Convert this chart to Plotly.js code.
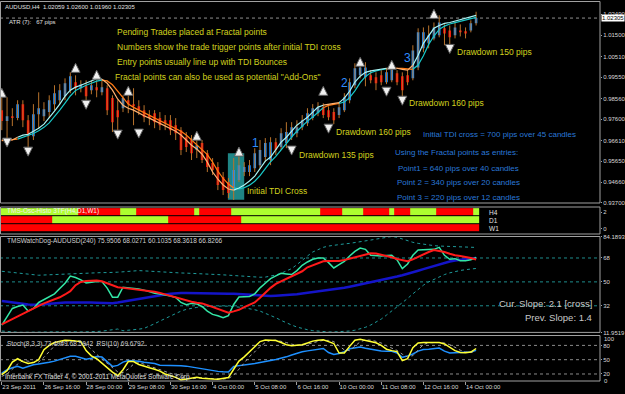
<!DOCTYPE html>
<html><head><meta charset="utf-8">
<script src="https://cdn.plot.ly/plotly-3.0.1.min.js"></script>
<style>html,body{margin:0;padding:0;background:#000;}#chart{width:625px;height:394px;}</style>
</head><body><div id="chart"></div>
<script>
// ---------- DATA (AUDUSD H4) ----------
const dateTickBars = [0, 8, 16, 24, 32, 40, 48, 56, 64, 72, 80, 88];
const dateTickLabels = ['23 Sep 2011','26 Sep 16:00','28 Sep 00:00','29 Sep 08:00','30 Sep 16:00','4 Oct 00:00','5 Oct 08:00','6 Oct 16:00','10 Oct 00:00','11 Oct 08:00','12 Oct 16:00','14 Oct 00:00'];

const opens = [
0.9802,0.9751,0.9774,0.9765,0.9830,0.9755,0.9681,0.9783,0.9774,0.9793,
0.9830,0.9848,0.9867,0.9895,0.9932,0.9904,0.9913,0.9895,0.9909,0.9885,
0.9904,0.9858,0.9802,0.9811,0.9848,0.9830,0.9820,0.9802,0.9779,0.9788,
0.9765,0.9755,0.9755,0.9732,0.9709,0.9676,0.9663,0.9616,0.9649,0.9602,
0.9556,0.9537,0.9491,0.9468,0.9430,0.9477,0.9514,0.9514,0.9532,0.9546,
0.9584,0.9570,0.9653,0.9630,0.9649,0.9676,0.9695,0.9723,0.9741,0.9765,
0.9788,0.9816,0.9802,0.9793,0.9779,0.9802,0.9848,0.9918,0.9964,0.9955,
0.9964,0.9955,0.9964,0.9932,0.9941,0.9974,0.9960,0.9964,0.9950,1.0001,
1.0090,1.0113,1.0136,1.0150,1.0183,1.0173,1.0150,1.0173,1.0169,1.0173,
1.02059];
const highs = [
0.9885,0.9862,0.9811,0.9848,0.9848,0.9779,0.9830,0.9885,0.9839,0.9871,
0.9918,0.9923,0.9950,0.9978,0.9964,0.9941,0.9941,0.9941,0.9941,0.9941,
0.9918,0.9871,0.9848,0.9871,0.9881,0.9904,0.9848,0.9825,0.9802,0.9802,
0.9793,0.9779,0.9779,0.9765,0.9723,0.9700,0.9686,0.9686,0.9663,0.9616,
0.9579,0.9560,0.9514,0.9486,0.9579,0.9593,0.9560,0.9570,0.9625,0.9663,
0.9672,0.9676,0.9672,0.9718,0.9746,0.9746,0.9755,0.9779,0.9811,0.9830,
0.9839,0.9834,0.9820,0.9811,0.9834,0.9881,0.9950,1.0020,1.0020,1.0025,
0.9988,0.9978,0.9988,0.9997,1.0025,0.9988,0.9978,0.9988,1.0104,1.0183,
1.0187,1.0196,1.0210,1.0243,1.0201,1.0196,1.0210,1.0201,1.0187,1.0220,
1.02600];
const lows = [
0.9709,0.9653,0.9728,0.9755,0.9723,0.9616,0.9663,0.9718,0.9751,0.9765,
0.9802,0.9830,0.9848,0.9881,0.9871,0.9885,0.9839,0.9876,0.9862,0.9871,
0.9779,0.9700,0.9709,0.9793,0.9788,0.9732,0.9779,0.9746,0.9732,0.9718,
0.9709,0.9709,0.9686,0.9663,0.9593,0.9607,0.9570,0.9579,0.9556,0.9514,
0.9500,0.9430,0.9407,0.9393,0.9384,0.9468,0.9495,0.9495,0.9514,0.9532,
0.9560,0.9546,0.9593,0.9616,0.9625,0.9663,0.9676,0.9709,0.9728,0.9755,
0.9774,0.9765,0.9755,0.9737,0.9765,0.9793,0.9834,0.9904,0.9950,0.9913,
0.9927,0.9895,0.9918,0.9923,0.9932,0.9918,0.9862,0.9918,0.9941,0.9988,
1.0071,1.0090,1.0127,1.0141,1.0104,1.0104,1.0136,1.0145,1.0136,1.0164,
1.01960];
const closes = [
0.9751,0.9774,0.9765,0.9830,0.9755,0.9681,0.9783,0.9811,0.9806,0.9848,
0.9881,0.9895,0.9927,0.9960,0.9904,0.9923,0.9867,0.9918,0.9895,0.9909,
0.9802,0.9746,0.9769,0.9858,0.9830,0.9820,0.9802,0.9769,0.9765,0.9746,
0.9732,0.9741,0.9709,0.9695,0.9616,0.9630,0.9602,0.9639,0.9570,0.9537,
0.9523,0.9454,0.9430,0.9416,0.9523,0.9546,0.9537,0.9546,0.9602,0.9616,
0.9649,0.9653,0.9616,0.9695,0.9700,0.9723,0.9723,0.9755,0.9788,0.9811,
0.9816,0.9779,0.9769,0.9755,0.9816,0.9862,0.9932,0.9997,1.0001,1.0001,
0.9941,0.9927,0.9932,0.9978,1.0001,0.9932,0.9895,0.9932,1.0080,1.0164,
1.0164,1.0150,1.0187,1.0210,1.0159,1.0141,1.0187,1.0164,1.0159,1.0206,
1.02305];

// fast and slow slope-coloured averages on the price chart
const maFast = [
0.9663,0.9663,0.9663,0.9676,0.9686,0.9690,0.9704,0.9718,0.9737,0.9765,
0.9797,0.9830,0.9867,0.9895,0.9909,0.9918,0.9927,0.9936,0.9948,0.9946,
0.9927,0.9895,0.9853,0.9825,0.9811,0.9802,0.9788,0.9776,0.9765,0.9753,
0.9741,0.9730,0.9718,0.9704,0.9686,0.9663,0.9639,0.9621,0.9597,0.9560,
0.9514,0.9481,0.9454,0.9435,0.9430,0.9440,0.9454,0.9472,0.9495,0.9532,
0.9565,0.9584,0.9616,0.9653,0.9676,0.9704,0.9732,0.9751,0.9769,0.9793,
0.9816,0.9825,0.9830,0.9832,0.9837,0.9858,0.9890,0.9932,0.9960,0.9978,
0.9985,0.9990,0.9995,0.9997,0.9997,0.9997,0.9992,0.9988,1.0011,1.0057,
1.0113,1.0150,1.0183,1.0196,1.0206,1.0210,1.0217,1.0222,1.0229,1.0236,
1.0243];
const maSlow = [
0.9660,0.9662,0.9663,0.9667,0.9676,0.9684,0.9693,0.9706,0.9722,0.9743,
0.9770,0.9802,0.9835,0.9868,0.9894,0.9908,0.9918,0.9927,0.9937,0.9942,
0.9938,0.9920,0.9890,0.9858,0.9830,0.9815,0.9803,0.9790,0.9778,0.9766,
0.9754,0.9742,0.9731,0.9719,0.9704,0.9686,0.9664,0.9642,0.9621,0.9595,
0.9560,0.9518,0.9484,0.9458,0.9440,0.9436,0.9441,0.9453,0.9471,0.9497,
0.9530,0.9562,0.9587,0.9617,0.9651,0.9677,0.9704,0.9730,0.9751,0.9770,
0.9792,0.9813,0.9824,0.9829,0.9833,0.9840,0.9860,0.9892,0.9930,0.9958,
0.9976,0.9985,0.9990,0.9994,0.9996,0.9997,0.9996,0.9993,0.9992,1.0012,
1.0055,1.0108,1.0147,1.0178,1.0193,1.0203,1.0209,1.0215,1.0221,1.0227,
1.0234];
const maTrend = [
-1,-1,-1,1,1,1,1,1,1,1,
1,1,1,1,1,1,1,1,1,-1,
-1,-1,-1,-1,-1,-1,-1,-1,-1,-1,
-1,-1,-1,-1,-1,-1,-1,-1,-1,-1,
-1,-1,-1,-1,1,1,1,1,1,1,
1,1,1,1,1,1,1,1,1,1,
1,-1,-1,-1,1,1,1,1,1,1,
1,1,1,-1,-1,-1,-1,-1,1,1,
1,1,1,1,1,1,1,1,1,1,
1];

const fracUpBar = [0, 14, 18, 24, 37, 45, 61, 68, 74, 82];
const fracUpPrice = [0.9904, 1.0020, 0.9988, 0.9913, 0.9704, 0.9630, 0.9913, 1.0048, 1.0034, 1.0271];
const fracDnBar = [1, 5, 16, 22, 26, 55, 62, 73, 76, 85];
const fracDnPrice = [0.9630, 0.9588, 0.9806, 0.9667, 0.9672, 0.9593, 0.9695, 0.9867, 0.9825, 1.0066];

// TMS-Osc-Histo 3TF  (1 = green, 0 = red)
const histoH4 = [
1,1,1,1,1,1,1,1,1,1,
1,1,1,1,1,0,0,0,0,0,
0,0,0,1,1,1,0,0,0,0,
0,0,0,0,0,0,0,1,0,0,
0,0,0,0,1,1,1,1,1,1,
1,1,1,1,1,1,1,1,1,1,
1,0,0,0,0,1,1,1,1,0,
0,0,0,0,1,0,0,0,1,1,
1,1,1,0,0,0,0,0,0,0,
1];
const histoD1 = [
0,0,0,0,0,0,0,0,0,0,
1,1,1,1,1,1,1,1,1,1,
1,1,1,1,1,1,1,1,1,1,
1,1,0,0,0,0,0,0,0,0,
0,0,0,0,0,0,1,1,1,1,
1,1,1,1,1,1,1,1,1,1,
1,1,1,1,1,1,1,1,1,1,
1,1,1,1,1,1,1,1,1,1,
1,1,1,1,1,1,1,1,1,1,
1];
const histoW1 = [
0,0,0,0,0,0,0,0,0,0,
0,0,0,0,0,0,0,0,0,0,
0,0,0,0,0,0,0,0,0,0,
0,0,0,0,0,0,0,0,0,0,
0,0,0,0,0,0,0,0,0,0,
0,0,0,0,0,0,0,0,0,0,
0,0,0,0,0,0,0,0,0,0,
0,0,0,0,0,0,0,0,0,0,
0,0,0,0,0,0,0,0,0,0,
0];

// TMSWatchDog (TDI)
const tdiUpper = [
58,57.5,57,56.5,56,55.5,55,55,55.2,55.4,
55.6,55.8,56,56.2,56.4,56.6,56.8,57,57,57,
57,57,57.3,57.6,58,58.3,58.5,58.3,58,57.7,
57.4,57.2,57,56.8,56.7,56.6,56.5,56.4,56.2,56,
55.8,55.5,55.3,55,54.7,54.4,54.1,53.8,53.6,53.5,
53.6,54.2,55.2,56.5,58,60,63,66.5,69.5,72.5,
74.5,76,77,77.7,78.2,78.6,79,79.5,80,80.8,
81.5,82.2,82.8,83.8,84.19,83.6,82.3,80.8,79.8,79,
78.3,77.8,77.3,77,76.8,76.6,76.4,76.2,76.1,76,
75.95];
const tdiLower = [
13,12.6,12.3,12.1,12,11.95,12,12.1,12.2,12.3,
12.4,12.5,12.5,12.5,12.4,12.3,12.3,12.4,12.6,12.9,
13.3,13.8,14.5,13.2,13.5,13.9,14.4,15,16.5,18.5,
20.5,22.5,24.5,26.5,28,29.3,30.2,30.8,31.3,31.5,
31.7,31.8,31.8,31.7,31.5,31,30.5,30,29,28,
26.5,25,23,21,19,17.5,16,14.8,14,13.3,
12.8,12.5,12.3,12.3,12.4,12.6,13,13.6,14.5,15.8,
17.5,19.5,22,25,28,31,34,37.5,41,44.5,
47.5,50,52,54,55.5,56.8,57.8,58.6,59.2,59.7,
60.1];
const tdiBase = [
35.6,35.2,34.8,34,33.5,33,32.7,32.8,33.2,33.6,
34,34.2,34.4,34.5,34.6,34.6,34.5,34.4,34.3,34.1,
34,34,34.5,35.2,35.8,36.4,37.2,38,38.8,39.5,
40,40.5,41,41.4,41.6,41.6,41.6,41.6,41.6,41.5,
41.4,41.3,41.2,41.1,41,40.8,40.5,40.2,39.9,39.6,
39.4,39.4,39.6,39.8,40,40.2,40.7,41.2,41.7,42.2,
42.7,43.3,43.8,44.3,44.9,45.6,46.4,47.2,48,48.8,
49.6,50.4,51.2,52.1,53,54,55,56,57.2,58.4,
59.6,60.8,62,63.2,64.3,65.3,66.1,66.8,67.3,67.7,
68.03];
const tdiPrice = [
17.5,24,30,31.5,32.6,28,30,34.5,36.5,39,
41,45,49,54.4,53.3,51.5,49.2,49.8,50.3,50.2,
45.3,38.5,38.5,46,45.7,45.3,44.6,43.8,42.5,41.4,
40.8,40.2,39.3,38.3,34.5,32.8,33.8,33.4,31.5,28,
25.5,24.5,23,24.6,33,38.6,38.6,39,41,45.5,
49,52.5,54.5,56.5,56,55.5,58.5,62.5,65,67,
68,68,64.5,60.5,63,65.5,69.5,73,75.5,74.5,
70,69.7,69.5,69.8,70,66.5,60,63.5,70,74,
74,74.1,74.5,76,70,67,67.5,66,66,66.6,
68.36];
const tdiSignal = [
18,20,22,24.5,26,28,30,32,33.8,35.3,
37,38.4,40.5,43,47.5,50,50.6,50.8,51,50.5,
49,47,46,45.5,45,44.5,44.1,43.7,43.3,42.6,
41.7,40.6,39.4,38.3,37,35.8,35,34.3,33.8,32.5,
31.2,29.8,28.3,26.8,27.8,29,31,32.8,34.5,38,
42,45.5,48.5,50.5,52.5,54.5,56,58,61,62.5,
64,65.5,65.7,65.7,65.7,66.5,67.5,68.5,69.5,70.5,
71.5,71.3,70.5,69.5,68.5,67.2,66.3,65.6,67,69,
71,72.5,74,73.5,72.5,71.2,70,69.5,69,68,
66.83];

// Stoch(8,3,3) and RSI(10)
const stochMain = [
18.5,27,45,52,46,42,44,50,71,80,
86,89,91,90.5,90,88,69,58,52,42,
33,24,16.4,29,46,46,40,36,33,30,
26,20,17,13,7.5,9.5,12.5,13,11,9.5,
9.3,9,10,12.5,30,47,56,66,78,88,
91.5,91.5,90.2,86,81.5,79.5,80,81.5,85,89,
91,92,88,84,64,64,78,91,93,91,
88.5,85.5,80,72,69,67,48,52,75,85,
86,86,86,86,83,76,69,65,64.5,66,
73.49];
const stochSignal = [
15,20,30,41,48,47,44,45,55,67,
79,85,88.5,90,90.5,89.5,82,72,60,51,
42.5,33,24.5,23,30.5,40.5,44,40.5,36.5,33,
29.5,25,21,16.5,12.5,10,10,11.5,12,11,
10,9.3,9.4,10.5,17.5,30,44.5,56.5,66.5,77.5,
86,90.5,91,89,86,82.5,80.5,80.5,82,85,
88.5,90.5,90.5,88,79,70.5,69,78,87.5,91.5,
91,88.5,85,79,74,69.5,61.5,55.5,58.5,70.5,
82,85.5,86,86,85,81.5,76,70,66,65,
68.59];
const rsi = [
22,29,33,36,32,36,39.5,41,42,44.5,
47,50,53,57,57,54,51,53,56.5,55.5,
45,36,38,45,48.5,48,46.5,44.5,43.5,42,
38.5,38.5,39,38.5,37.5,36.5,34.5,32,30,28.5,
26,25.5,24.5,24,36,38,39,40.5,42,44.5,
47.5,48.5,50.5,53,56,60,63.5,66.5,68.5,70.5,
72,73.5,65,61,63,67,73,75,76.5,74,
71.5,69.5,68,67.5,67.5,64,55,58,62,68,
71.5,72,73,74.5,68,64,64.5,64.5,64.5,66,
69.68];

const priceTicks = [0.937, 0.9466, 0.9565, 0.9661, 0.976, 0.9856, 0.9955, 1.0051, 1.015, 1.0249];
const priceTickText = ['0.93700','0.94660','0.95650','0.96610','0.97600','0.98560','0.99550','1.00510','1.01500','1.02490'];
const lastPrice = 1.02305;

// ---------- BUILD ----------
const bars = opens.map((_, i) => i);
const FONT = 'Liberation Sans, Arial, sans-serif';
const PX = x => x / 600;
const PY = y => (381 - y) / 379;

function trendSeg(vals, sign) {
  return vals.map((v, i) => (maTrend[i] === sign || (i > 0 && maTrend[i - 1] === sign)) ? v : null);
}
const wx = [], wy = [];
bars.forEach(i => { wx.push(i, i, null); wy.push(lows[i], highs[i], null); });

const traces = [
  {type:'scatter', mode:'lines', x:wx, y:wy, xaxis:'x', yaxis:'y', line:{color:'#b8732c', width:1}, hoverinfo:'skip'},
  {type:'candlestick', x:bars, open:opens, high:highs, low:lows, close:closes, xaxis:'x', yaxis:'y',
   increasing:{fillcolor:'#1e90ff', line:{color:'#1e90ff', width:0}},
   decreasing:{fillcolor:'#ff0000', line:{color:'#ff0000', width:0}}},
  {type:'scatter', mode:'lines', x:bars, y:trendSeg(maSlow, 1), line:{color:'#19c8c8', width:1.2}, xaxis:'x', yaxis:'y'},
  {type:'scatter', mode:'lines', x:bars, y:trendSeg(maSlow, -1), line:{color:'#ff7a14', width:1.2}, xaxis:'x', yaxis:'y'},
  {type:'scatter', mode:'lines', x:bars, y:trendSeg(maFast, 1), line:{color:'#a8f4f4', width:1.2}, xaxis:'x', yaxis:'y'},
  {type:'scatter', mode:'lines', x:bars, y:trendSeg(maFast, -1), line:{color:'#ffb070', width:1.2}, xaxis:'x', yaxis:'y'},
  {type:'scatter', mode:'markers', x:fracUpBar, y:fracUpPrice, xaxis:'x', yaxis:'y',
   marker:{symbol:'arrow-up', size:9, color:'#f0f0f0', line:{color:'#606060', width:1}}},
  {type:'scatter', mode:'markers', x:fracDnBar, y:fracDnPrice, xaxis:'x', yaxis:'y',
   marker:{symbol:'arrow-down', size:9, color:'#f0f0f0', line:{color:'#606060', width:1}}},
  {type:'heatmap', x:bars, y:[0, 1, 2], z:[histoW1, histoD1, histoH4], xaxis:'x', yaxis:'y2',
   colorscale:[[0,'#ff0000'],[1,'#adff2f']], zmin:0, zmax:1, showscale:false, ygap:1, hoverinfo:'skip'},
  {type:'scatter', mode:'lines', x:bars, y:tdiUpper, xaxis:'x', yaxis:'y3', line:{color:'#1e9a9a', width:1, dash:'dot'}},
  {type:'scatter', mode:'lines', x:bars, y:tdiLower, xaxis:'x', yaxis:'y3', line:{color:'#1e9a9a', width:1, dash:'dot'}},
  {type:'scatter', mode:'lines', x:bars, y:tdiBase, xaxis:'x', yaxis:'y3', line:{color:'#1414c8', width:2.5}},
  {type:'scatter', mode:'lines', x:bars, y:tdiPrice, xaxis:'x', yaxis:'y3', line:{color:'#33e6a6', width:1.5}},
  {type:'scatter', mode:'lines', x:bars, y:tdiSignal, xaxis:'x', yaxis:'y3', line:{color:'#ff1a1a', width:2}},
  {type:'scatter', mode:'lines', x:bars, y:rsi, xaxis:'x', yaxis:'y4', line:{color:'#1e90ff', width:1.5}},
  {type:'scatter', mode:'lines', x:bars, y:stochSignal, xaxis:'x', yaxis:'y4', line:{color:'#a0a0a0', width:1, dash:'dot'}},
  {type:'scatter', mode:'lines', x:bars, y:stochMain, xaxis:'x', yaxis:'y4', line:{color:'#ffff33', width:1.5}}
];

const tickFont = {family:FONT, size:6, color:'#d8d8d8'};
const yBase = {side:'right', anchor:'x', showgrid:false, zeroline:false, showline:false, ticks:'outside', ticklen:1, tickcolor:'#a0a0a0', tickfont:tickFont, tickmode:'array', fixedrange:true};

function panelRect(y0, y1) {
  return {type:'rect', xref:'paper', yref:'paper', x0:PX(0.5), x1:PX(600), y0:PY(y1), y1:PY(y0), line:{color:'#a0a0a0', width:1}, fillcolor:'rgba(0,0,0,0)'};
}
function level(yref, v, color) {
  return {type:'line', xref:'paper', x0:0, x1:1, yref:yref, y0:v, y1:v, line:{color:color, width:1, dash:'dot'}, layer:'below'};
}

const shapes = [
  {type:'rect', xref:'x', yref:'y', x0:42.9, x1:46.0, y0:0.9385, y1:0.9602, fillcolor:'#1f8585', line:{width:0}, layer:'below'},
  level('y', lastPrice, '#909090'),
  level('y3', 68, '#1e8c8c'), level('y3', 50, '#1e8c8c'), level('y3', 32, '#1e8c8c'),
  level('y4', 80, '#8a8a8a'), level('y4', 50, '#8a8a8a'), level('y4', 20, '#8a8a8a'),
  panelRect(1.5, 203), panelRect(207, 234), panelRect(236.5, 332.4), panelRect(335.5, 381)
];

function txt(x, y, text, size, color, anchor, extra) {
  return Object.assign({xref:'paper', yref:'paper', x:PX(x), y:PY(y), text:text, showarrow:false,
    xanchor:anchor || 'left', yanchor:'middle', font:{family:FONT, size:size, color:color}}, extra || {});
}
const YEL = '#d2d21e', BLU = '#2a78d8', WHT = '#e0e0e0';
const annotations = [
  txt(3, 7, 'AUDUSD,H4  1.02059 1.02600 1.01960 1.02305', 6, WHT),
  txt(7, 22, 'ATR (7):   67 pips', 6, WHT),
  txt(115, 32, 'Pending Trades placed at Fractal points', 8.5, YEL),
  txt(115, 47, 'Numbers show the trade trigger points after initial TDI cross', 8.5, YEL),
  txt(115, 62, 'Entry points usually line up with TDI Bounces', 8.5, YEL),
  txt(113, 77, 'Fractal points can also be used as potential "Add-Ons"', 8.5, YEL),
  txt(245, 191, 'Initial TDI Cross', 8.5, YEL),
  txt(297, 155, 'Drawdown 135 pips', 8.5, YEL),
  txt(334, 132, 'Drawdown 160 pips', 8.5, YEL),
  txt(407, 103, 'Drawdown 160 pips', 8.5, YEL),
  txt(455, 52, 'Drawdown 150 pips', 8.5, YEL),
  txt(421, 135, 'Initial TDI cross = 700 pips over 45 candles', 8, BLU),
  txt(393, 152, 'Using the Fractal points as entries:', 8, BLU),
  txt(396, 168.5, 'Point1 = 640 pips over 40 candles', 8, BLU),
  txt(395, 183, 'Point 2 = 340 pips over 20 candles', 8, BLU),
  txt(395, 197, 'Point 3 = 220 pips over 12 candles', 8, BLU),
  txt(255, 143, '1', 12, '#2f8cff', 'center'),
  txt(344, 83, '2', 12, '#2f8cff', 'center'),
  txt(407, 58, '3', 12, '#2f8cff', 'center'),
  txt(601, 18, lastPrice.toFixed(5), 6, '#000000', 'left', {bgcolor:'#ffffff', borderpad:0}),
  txt(5, 211, 'TMS-Osc-Histo 3TF(H4,D1,W1)', 6.5, '#f0f0f0'),
  txt(487, 212, 'H4', 6.5, WHT), txt(487, 220, 'D1', 6.5, WHT), txt(487, 228.5, 'W1', 6.5, WHT),
  txt(5, 241, 'TMSWatchDog-AUDUSD(240) 75.9506 68.0271 60.1035 68.3618 66.8266', 6.5, '#d0d0d0'),
  txt(594, 303, 'Cur. Slope: 2.1 [cross]', 9.5, '#c8c8c8', 'right'),
  txt(594, 317, 'Prev. Slope: 1.4', 9.5, '#c8c8c8', 'right'),
  txt(5, 344, 'Stoch(8,3,3) 73.4949 68.5942  RSI(10) 69.6792', 6.5, '#d0d0d0'),
  txt(3, 377, 'Interbank FX Trader 4, \u00a9 2001-2011 MetaQuotes Software Corp.', 6.5, WHT),
  txt(602, 339, '100', 6, '#d8d8d8'),
  txt(602, 380.5, '0', 6, '#d8d8d8')
];

const layout = {
  width:625, height:394, margin:{l:0, r:25, t:2, b:13},
  paper_bgcolor:'#000000', plot_bgcolor:'#000000', showlegend:false, hovermode:false,
  xaxis:{range:[-0.34, 113.51], anchor:'y4', tickmode:'array', tickvals:dateTickBars, ticktext:dateTickLabels,
    tickfont:tickFont, tickangle:0, ticks:'outside', ticklen:3, tickcolor:'#a0a0a0', ticklabelposition:'outside right',
    showgrid:false, zeroline:false, showline:false, rangeslider:{visible:false}, fixedrange:true},
  yaxis:Object.assign({}, yBase, {domain:[0.4697, 0.9987], range:[0.937, 1.0303], tickvals:priceTicks, ticktext:priceTickText}),
  yaxis2:Object.assign({}, yBase, {domain:[0.3879, 0.4591], range:[-0.67, 2.64], tickvals:[0, 2], ticktext:['0','2']}),
  yaxis3:Object.assign({}, yBase, {domain:[0.1282, 0.3813], range:[11.9519, 84.1893], tickvals:[11.9519, 32, 50, 68, 84.1893], ticktext:['11.9519','32','50','68','84.1893']}),
  yaxis4:Object.assign({}, yBase, {domain:[0, 0.1201], range:[5.3, 100.8], tickvals:[20, 50, 80], ticktext:['20','50','80']}),
  shapes:shapes, annotations:annotations
};

Plotly.newPlot('chart', traces, layout, {staticPlot:true, displayModeBar:false});
</script>
</body></html>
